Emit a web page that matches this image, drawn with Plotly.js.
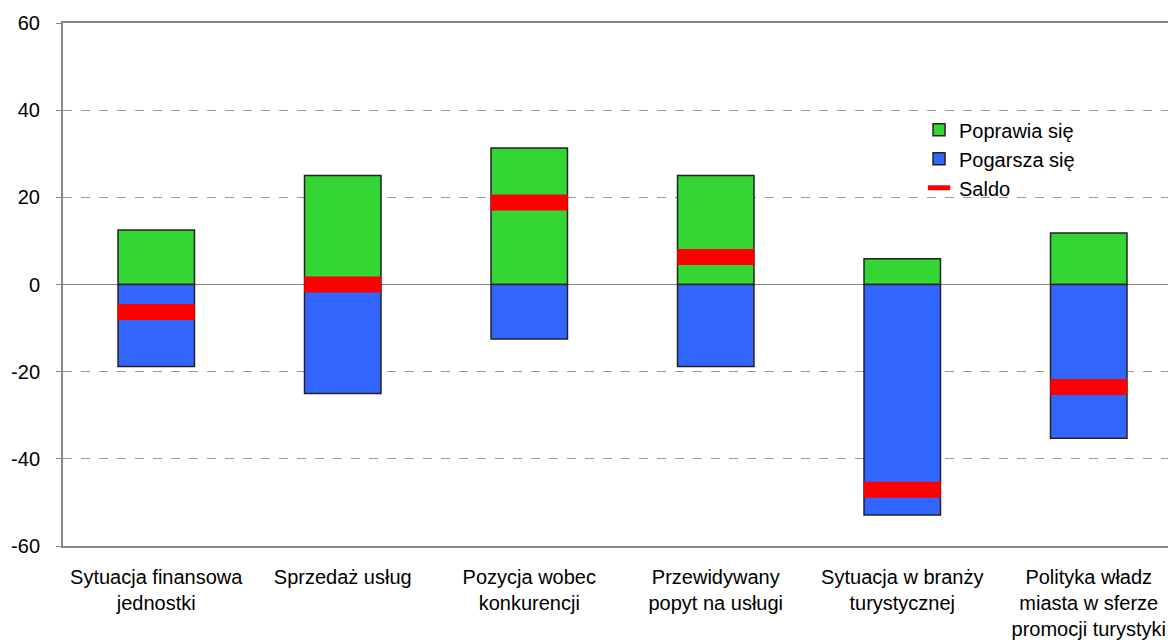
<!DOCTYPE html>
<html>
<head>
<meta charset="utf-8">
<script src="https://cdn.plot.ly/plotly-3.0.1.min.js"></script>
<style>
html,body{margin:0;padding:0;overflow:hidden;background:#fff;}
#chart{width:1192px;height:642px;}
</style>
</head>
<body>
<div id="chart"></div>
<script>
const categories = [
  "Sytuacja finansowa<br>jednostki",
  "Sprzedaż usług",
  "Pozycja wobec<br>konkurencji",
  "Przewidywany<br>popyt na usługi",
  "Sytuacja w branży<br>turystycznej",
  "Polityka władz<br>miasta w sferze<br>promocji turystyki"
];
const poprawia = [12.5, 25.0, 31.3, 25.0, 5.9, 11.8];
const pogarsza = [-18.8, -25.0, -12.5, -18.8, -52.9, -35.3];
const saldo = [-6.3, 0.0, 18.8, 6.3, -47.1, -23.5];
const boundaryTicks = [0.5, 1.5, 2.5, 3.5, 4.5];
const yTicks = [-60, -40, -20, 0, 20, 40, 60];

const font = {family: "Arial, 'Liberation Sans', sans-serif", size: 20, color: "#000"};

const traces = [
  {type: "bar", name: "Poprawia się", x: categories, y: poprawia, width: 0.41,
   marker: {color: "#33D633", line: {color: "#222", width: 1.5}}, hoverinfo: "skip"},
  {type: "bar", name: "Pogarsza się", x: categories, y: pogarsza, width: 0.41,
   marker: {color: "#3366FF", line: {color: "#222", width: 1.5}}, hoverinfo: "skip"},
  {type: "scatter", mode: "markers", name: "Saldo", x: categories, y: saldo,
   marker: {symbol: "line-ew", size: 55, color: "#FF0000", line: {color: "#FF0000", width: 16}},
   hoverinfo: "skip"}
];

const layout = {
  width: 1192, height: 642,
  margin: {l: 63, r: 10, t: 23, b: 96},
  paper_bgcolor: "#fff", plot_bgcolor: "#fff",
  font: font,
  barmode: "relative",
  showlegend: true,
  legend: {x: 0.765, y: 0.833, xanchor: "left", yanchor: "top", font: font,
           bgcolor: "rgba(0,0,0,0)", tracegroupgap: 0, itemwidth: 30},
  xaxis: {type: "category", range: [-0.5, 5.5], showgrid: false, zeroline: false,
          showline: true, linecolor: "#888", linewidth: 2, mirror: true,
          ticks: "", tickfont: font, ticklabelstandoff: 12},
  xaxis2: {type: "linear", overlaying: "x", anchor: "free", position: 0.5, range: [-0.5, 5.5],
           tickmode: "array", tickvals: boundaryTicks, ticks: "outside", ticklen: 6, tickwidth: 2,
           tickcolor: "#BBB", showticklabels: false, showgrid: false, zeroline: false, showline: false},
  xaxis3: {type: "linear", overlaying: "x", anchor: "free", position: 0.5, side: "top", range: [-0.5, 5.5],
           tickmode: "array", tickvals: boundaryTicks, ticks: "outside", ticklen: 6, tickwidth: 2,
           tickcolor: "#BBB", showticklabels: false, showgrid: false, zeroline: false, showline: false},
  yaxis: {range: [-60, 60], tickmode: "array", tickvals: yTicks, ticktext: yTicks.map(String),
          showgrid: true, gridcolor: "#999", griddash: "dash", gridwidth: 1,
          zeroline: true, zerolinecolor: "#888", zerolinewidth: 1.5,
          showline: true, linecolor: "#888", linewidth: 2,
          ticks: "outside", ticklen: 5, tickcolor: "#888", tickwidth: 1,
          tickfont: font, ticklabelstandoff: 12}
};

Plotly.newPlot("chart", traces, layout, {displayModeBar: false, staticPlot: true});
</script>
</body>
</html>
